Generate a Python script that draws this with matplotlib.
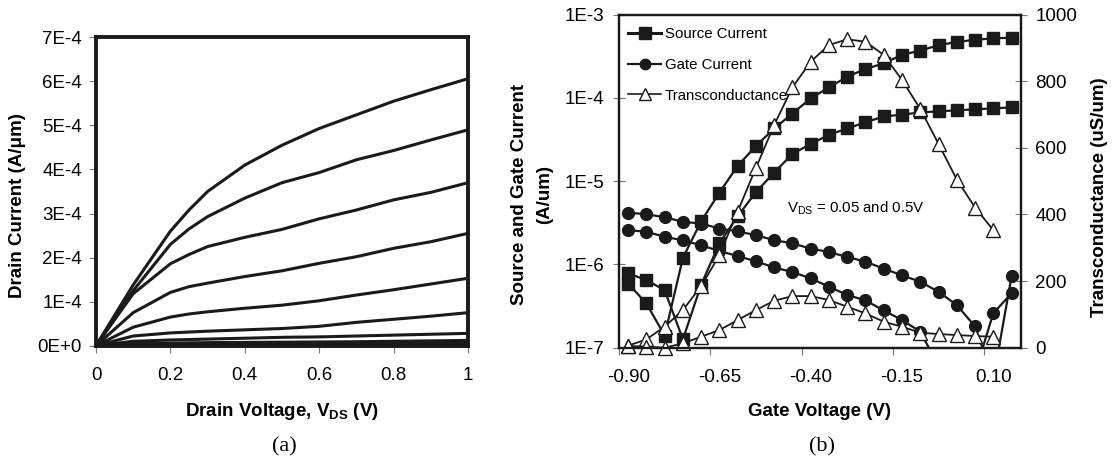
import numpy as np
import matplotlib.pyplot as plt
from matplotlib.lines import Line2D

plt.rcParams['font.family'] = ['Liberation Sans', 'DejaVu Sans']
plt.rcParams['mathtext.fontset'] = 'custom'
plt.rcParams['mathtext.rm'] = 'Liberation Sans'
plt.rcParams['mathtext.bf'] = 'Liberation Sans:bold'

# (a) output characteristics, drain current in units of 1E-4 A/um
vd = [0, 0.1, 0.2, 0.25, 0.3, 0.4, 0.5, 0.6, 0.7, 0.8, 0.9, 1.0]
id_curves = [
    [0, 1.38, 2.6, 3.08, 3.5, 4.1, 4.55, 4.93, 5.24, 5.55, 5.81, 6.06],
    [0, 1.25, 2.3, 2.65, 2.93, 3.35, 3.7, 3.93, 4.22, 4.43, 4.67, 4.9],
    [0, 1.18, 1.86, 2.07, 2.25, 2.46, 2.64, 2.88, 3.08, 3.31, 3.48, 3.7],
    [0, 0.75, 1.21, 1.34, 1.42, 1.57, 1.7, 1.87, 2.02, 2.21, 2.36, 2.55],
    [0, 0.42, 0.65, 0.72, 0.77, 0.85, 0.92, 1.02, 1.15, 1.27, 1.4, 1.53],
    [0, 0.22, 0.29, 0.31, 0.33, 0.36, 0.39, 0.44, 0.53, 0.6, 0.67, 0.75],
    [0, 0.10, 0.13, 0.14, 0.15, 0.17, 0.19, 0.2, 0.22, 0.24, 0.26, 0.28],
    [0, 0.05, 0.06, 0.065, 0.07, 0.075, 0.08, 0.085, 0.09, 0.1, 0.11, 0.12],
    [0, 0.03, 0.035, 0.037, 0.04, 0.042, 0.045, 0.048, 0.05, 0.053, 0.056, 0.06],
    [0, 0.01, 0.012, 0.013, 0.013, 0.014, 0.015, 0.016, 0.017, 0.018, 0.019, 0.02],
]

# (b) transfer characteristics, VDS = 0.5 V and 0.05 V
gate_v = [-0.90, -0.85, -0.80, -0.75, -0.70, -0.65, -0.60, -0.55, -0.50, -0.45, -0.40,
          -0.35, -0.30, -0.25, -0.20, -0.15, -0.10, -0.05, 0.00, 0.05, 0.10, 0.15]
source_hi = [5.9e-7, 3.4e-7, 1.4e-7, 1.2e-6, 3.3e-6, 7.3e-6, 1.53e-5, 2.65e-5, 4.3e-5, 6.5e-5, 9.9e-5,
             1.34e-4, 1.8e-4, 2.23e-4, 2.6e-4, 3.3e-4, 3.7e-4, 4.3e-4, 4.7e-4, 5.0e-4, 5.2e-4, 5.3e-4]
source_lo = [7.8e-7, 6.5e-7, 4.9e-7, 1.26e-7, 5.7e-7, 1.8e-6, 3.8e-6, 7.4e-6, 1.27e-5, 2.13e-5, 2.8e-5,
             3.6e-5, 4.3e-5, 5.1e-5, 6.0e-5, 6.3e-5, 6.7e-5, 6.9e-5, 7.1e-5, 7.3e-5, 7.5e-5, 7.7e-5]
gate_hi = [4.2e-6, 4.0e-6, 3.7e-6, 3.25e-6, 3.1e-6, 2.7e-6, 2.5e-6, 2.24e-6, 1.96e-6, 1.79e-6, 1.55e-6,
           1.41e-6, 1.23e-6, 1.08e-6, 8.9e-7, 7.4e-7, 6.2e-7, 4.7e-7, 3.25e-7, 1.8e-7, 4.2e-8, 7.2e-7]
gate_lo = [2.58e-6, 2.47e-6, 2.15e-6, 1.95e-6, 1.7e-6, 1.45e-6, 1.26e-6, 1.09e-6, 9.2e-7, 8.1e-7, 6.8e-7,
           5.4e-7, 4.3e-7, 3.7e-7, 2.8e-7, 2.15e-7, 1.56e-7, 6e-8, 3e-8, 5e-8, 2.6e-7, 4.5e-7]
gm_hi = [6, 25, 63, 113, 185, 278, 409, 540, 669, 782, 859, 909, 926, 919, 879, 804, 717, 612, 505, 421, 353]
gm_lo = [5, 3, 0, 13, 33, 53, 83, 113, 141, 155, 155, 143, 123, 103, 78, 63, 45, 41, 38, 35, 33]

W, H = 1112, 465
fig = plt.figure(figsize=(W / 100, H / 100), dpi=100)


def px(x, y):
    return x / W, 1 - y / H


# ---------- panel (a) ----------
axa = fig.add_axes([96 / W, 1 - 345.7 / H, (468 - 96) / W, (345.7 - 37.3) / H])
for c in id_curves:
    axa.plot(vd, c, color='#1a1a1a', lw=2.2, solid_joinstyle='round')
axa.set_xlim(0, 1)
axa.set_ylim(0, 7)
axa.set_xticks([0, 0.2, 0.4, 0.6, 0.8, 1.0])
axa.set_xticklabels(['0', '0.2', '0.4', '0.6', '0.8', '1'])
axa.set_yticks(range(8))
axa.set_yticklabels(['0E+0'] + ['%dE-4' % k for k in range(1, 8)])
for s in axa.spines.values():
    s.set_linewidth(2.8)
    s.set_color('#1a1a1a')
axa.tick_params(direction='out', length=5, width=0.8, color='#777777', labelsize=13.5)
axa.tick_params(axis='x', pad=10)
axa.tick_params(axis='y', pad=5)

fig.text(*px(18, 206), 'Drain Current (A/\u03bcm)', rotation=90, ha='center', va='center',
         fontsize=13.5, fontweight='bold')
fig.text(*px(282, 411), r'Drain Voltage, V$_{\mathbf{DS}}$ (V)', ha='center', va='center',
         fontsize=13.5, fontweight='bold')
fig.text(*px(284, 447), '(a)', ha='center', va='center', fontsize=16, family='Liberation Serif')

# ---------- panel (b) ----------
axb = fig.add_axes([619 / W, 1 - 347.7 / H, (1020.7 - 619) / W, (347.7 - 14.7) / H])
axb.set_yscale('log')
axb.set_ylim(1e-7, 1e-3)
axb.set_xlim(-0.925, 0.175)


def log_series(ax, y, marker):
    y = np.array(y)
    ax.plot(gate_v, y, color='#1a1a1a', lw=1.6)
    ym = np.ma.masked_less(y, 1e-7)
    ax.plot(gate_v, ym, ls='none', marker=marker, ms=8.5, mfc='#1a1a1a', mec='#1a1a1a',
            clip_on=False, zorder=3)


log_series(axb, gate_hi, 'o')
log_series(axb, gate_lo, 'o')
log_series(axb, source_hi, 's')
log_series(axb, source_lo, 's')

axb.set_yticks([1e-7, 1e-6, 1e-5, 1e-4, 1e-3])
axb.set_yticklabels(['1E-7', '1E-6', '1E-5', '1E-4', '1E-3'])
axb.yaxis.set_minor_locator(plt.NullLocator())
axb.set_xticks([-0.925, -0.675, -0.425, -0.175, 0.075])
axb.set_xticklabels([])
axb.set_xticks([-0.90, -0.65, -0.40, -0.15, 0.10], minor=True)
axb.set_xticklabels(['-0.90', '-0.65', '-0.40', '-0.15', '0.10'], minor=True)
axb.tick_params(axis='x', which='major', direction='out', length=5, width=0.8, color='#777777')
axb.tick_params(axis='x', which='minor', length=0, pad=15, labelsize=13.5)
axb.tick_params(axis='y', direction='inout', length=9, width=0.8, color='#777777',
                labelsize=13.5, pad=6)

axg = axb.twinx()
axg.set_ylim(0, 1000)
axg.set_yticks(range(0, 1001, 200))
axg.tick_params(axis='y', direction='inout', length=9, width=0.8, color='#777777',
                labelsize=13.5, pad=6)
for ygm in (gm_hi, gm_lo):
    axg.plot(gate_v[:len(ygm)], ygm, color='#1a1a1a', lw=1.3, marker='^', ms=9.5,
             mfc='white', mec='#1a1a1a', mew=1.0, clip_on=False)

for ax in (axb, axg):
    for s in ax.spines.values():
        s.set_linewidth(1.6)
        s.set_color('#1a1a1a')

handles = [
    Line2D([], [], color='#1a1a1a', lw=2.2, marker='s', ms=8.5, mfc='#1a1a1a', mec='#1a1a1a'),
    Line2D([], [], color='#1a1a1a', lw=1.6, marker='o', ms=7.5, mfc='#1a1a1a', mec='#1a1a1a'),
    Line2D([], [], color='#1a1a1a', lw=1.2, marker='^', ms=9, mfc='white', mec='#1a1a1a'),
]
axg.legend(handles, ['Source Current', 'Gate Current', 'Transconductance'],
           loc='upper left', bbox_to_anchor=(0.0, 0.99), frameon=False, fontsize=10.8,
           handlelength=2.2, handletextpad=0.25, labelspacing=1.12, borderaxespad=0.4,
           borderpad=0.2)

fig.text(*px(787, 208), r'V$_{\rm DS}$ = 0.05 and 0.5V', fontsize=10.8,
         va='center', ha='left')

fig.text(*px(519, 194), 'Source and Gate Current', rotation=90, ha='center', va='center',
         fontsize=13.5, fontweight='bold')
fig.text(*px(545, 194), '(A/um)', rotation=90, ha='center', va='center',
         fontsize=13.5, fontweight='bold')
fig.text(*px(1100, 197), 'Transconductance (uS/um)', rotation=90, ha='center', va='center',
         fontsize=13.5, fontweight='bold')
fig.text(*px(820, 411), 'Gate Voltage (V)', ha='center', va='center',
         fontsize=13.5, fontweight='bold')
fig.text(*px(822, 447), '(b)', ha='center', va='center', fontsize=16, family='Liberation Serif')

fig.savefig('out.png', dpi=100)
